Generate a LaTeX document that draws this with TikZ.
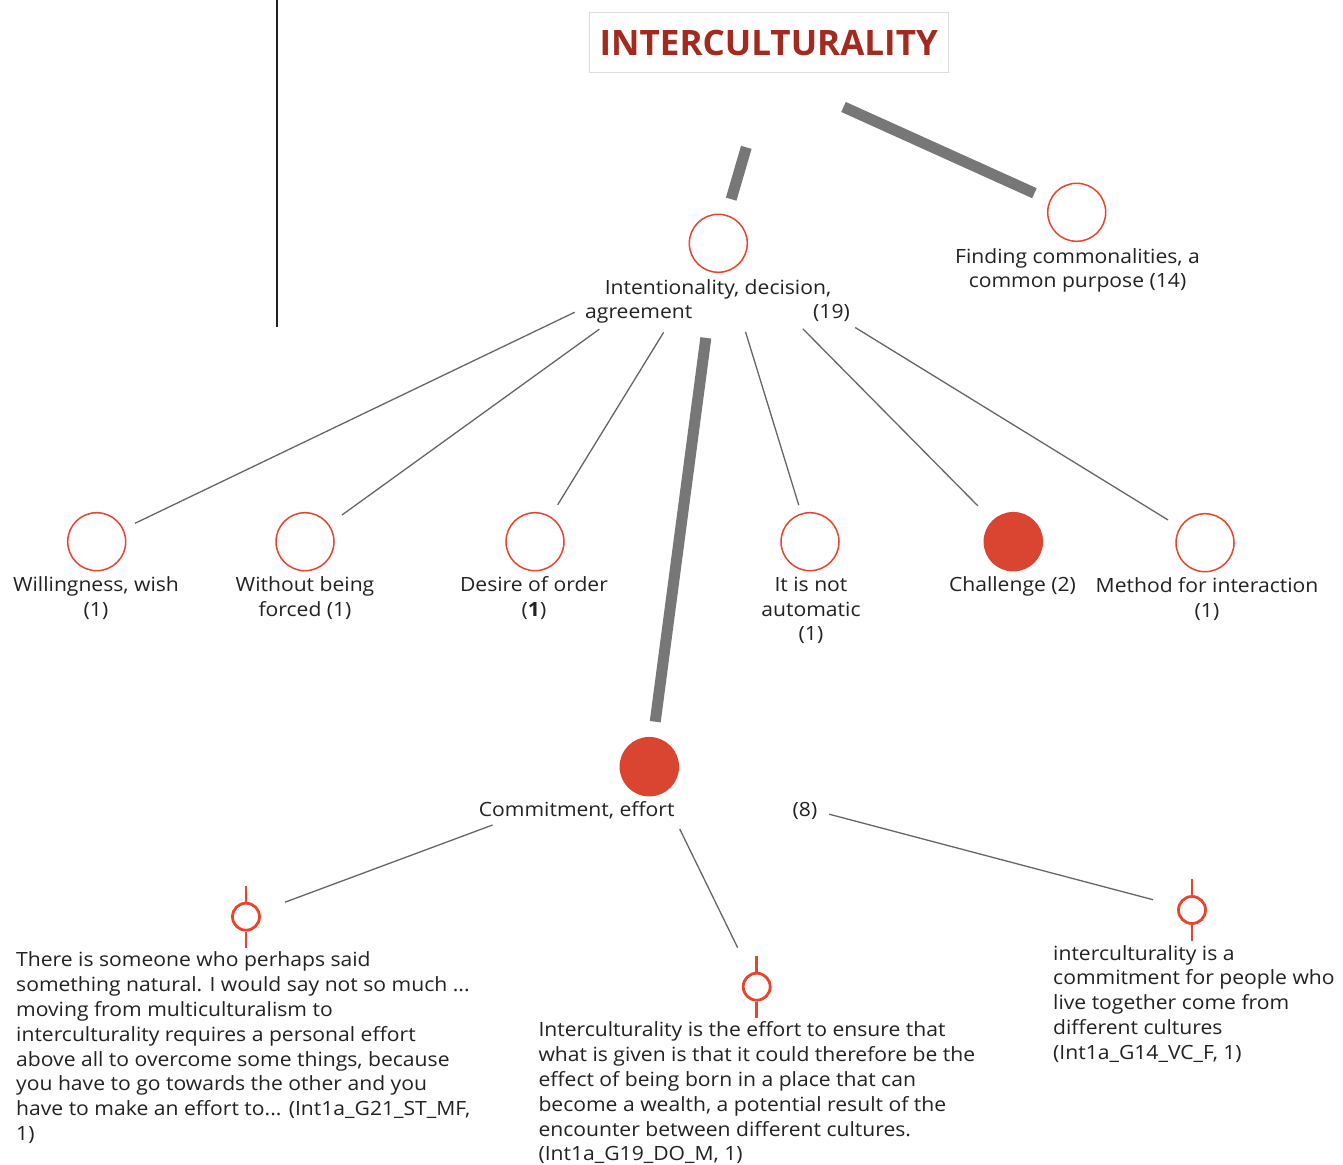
\documentclass[tikz,border=0pt]{standalone}
\usepackage{fontspec}
\setmainfont{Open Sans}[FakeStretch=1.077]
\newfontfamily\headfont{Open Sans}

\definecolor{ink}{HTML}{222222}
\definecolor{titlered}{HTML}{A32A1E}
\definecolor{codered}{HTML}{E8442E}
\definecolor{codefill}{HTML}{D94530}
\definecolor{bargray}{HTML}{777777}
\definecolor{linegray}{HTML}{666666}
\definecolor{boxgray}{HTML}{DDDDDD}

% stacked lines whose baseline is the first line's baseline
\newcommand\mlines[2][c]{\begin{tabular}[t]{@{}#1@{}}#2\end{tabular}}

\tikzset{
  lbl/.style={font=\fontsize{19.6}{24.5}\selectfont, text=ink, inner sep=0, anchor=base},
  quote/.style={font=\fontsize{19.6}{24.85}\selectfont, text=ink, inner sep=0, anchor=base west},
  code/.style={circle, draw=codered, line width=1.5, minimum size=58, inner sep=0},
  codefull/.style={code, draw=codefill, fill=codefill},
  seg/.style={circle, draw=codered, line width=2.8, minimum size=27, inner sep=0},
  segtick/.style={draw=codered, line width=2.8},
  bar/.style={draw=bargray, line width=11},
  twig/.style={draw=linegray, line width=1.3},
}

\begin{document}
\begin{tikzpicture}[x=1pt,y=-1pt]
\fill[white] (0,0) rectangle (1343,1164);
\useasboundingbox (0,0) rectangle (1343,1164);

% side rule
\draw[ink, line width=1.2] (277,0) -- (277,327);

% title
\node[draw=boxgray, fill=white, line width=1, minimum width=359, minimum height=60, inner sep=0,
      font=\headfont\bfseries\fontsize{35}{40}\selectfont, text=titlered] (title) at (768.8,42.7) {INTERCULTURALITY};

% codes
\node[code] (int)  at (718.3,243.3) {};
\node[code] (find) at (1076.7,212.3) {};
\node[code] (will) at (96.7,541.7) {};
\node[code] (forc) at (305,541.7) {};
\node[code] (ordr) at (535,541.7) {};
\node[code] (auto) at (810,541.7) {};
\node[codefull] (chal) at (1013.3,541.7) {};
\node[code] (meth) at (1205,542.7) {};
\node[codefull] (comm) at (649.3,766.7) {};

% code labels
\node[lbl] (intA) at (718,294.5) {Intentionality, decision,};
\node[lbl, anchor=base west] (intB) at (585,318.5) {agreement};
\node[lbl, anchor=base east] (intC) at (850,318.5) {(19)};
\node[lbl] (findL) at (1077.5,263) {\mlines{Finding commonalities, a\\common purpose (14)}};
\node[lbl] (willL) at (96,591.7) {\mlines{Willingness, wish\\(1)}};
\node[lbl] (forcL) at (305,591.7) {\mlines{Without being\\forced (1)}};
\node[lbl] (ordrL) at (534,591.7) {\mlines{Desire of order\\(\textbf{1})}};
\node[lbl] (autoL) at (811,591.7) {\mlines{It is not\\automatic\\(1)}};
\node[lbl] (chalL) at (1012.5,591.7) {Challenge (2)};
\node[lbl] (methL) at (1207,592.5) {\mlines{Method for interaction\\(1)}};
\node[lbl] (commL) at (576.7,816.7) {Commitment, effort};
\node[lbl] (commC) at (805,816.7) {(8)};

% quotation markers
\node[seg] (q1) at (246,916.7) {};
\node[seg] (q2) at (756.7,986.7) {};
\node[seg] (q3) at (1192,910) {};
\foreach \q in {q1,q2,q3}{
  \draw[segtick] (\q.north) -- ([yshift=16]\q.north);
  \draw[segtick] (\q.south) -- ([yshift=-16]\q.south);
}

% quotations
\node[quote] (q1t) at (16,966.7) {\mlines[l]{There is someone who perhaps said\\
something natural. I would say not so much ...\\
moving from multiculturalism to\\
interculturality requires a personal effort\\
above all to overcome some things, because\\
you have to go towards the other and you\\
have to make an effort to... (Int1a\_G21\_ST\_MF,\\
1)}};
\node[quote] (q2t) at (538.3,1036.7) {\mlines[l]{Interculturality is the effort to ensure that\\
what is given is that it could therefore be the\\
effect of being born in a place that can\\
become a wealth, a potential result of the\\
encounter between different cultures.\\
(Int1a\_G19\_DO\_M, 1)}};
\node[quote] (q3t) at (1053,960) {\mlines[l]{interculturality is a\\
commitment for people who\\
live together come from\\
different cultures\\
(Int1a\_G14\_VC\_F, 1)}};

% heavy links
\draw[bar, shorten <=109, shorten >=46] ([xshift=8]title.center) -- (int.center);
\draw[bar, shorten <=82, shorten >=46.4] (title.south) -- (find.center);
\draw[bar, shorten <=95.4, shorten >=45.4] (int.center) -- (comm.center);

% light links
\draw[twig, shorten <=159.3, shorten >=42.6] (int.center) -- (will.center);
\draw[twig, shorten <=146.7, shorten >=45.6] (int.center) -- (forc.center);
\draw[twig, shorten <=104.5, shorten >=43.3] (int.center) -- (ordr.center);
\draw[twig, shorten <=92.6, shorten >=38.3] (int.center) -- (auto.center);
\draw[twig, shorten <=120.3, shorten >=50.4] (int.center) -- (chal.center);
\draw[twig, shorten <=160.8, shorten >=43.4] (int.center) -- (meth.center);
\draw[twig, shorten <=167.2, shorten >=41.7] (comm.center) -- (q1.center);
\draw[twig, shorten <=69.5, shorten >=43.5] (comm.center) -- (q2.center);
\draw[twig, shorten <=186.1, shorten >=40.3] (comm.center) -- (q3.center);
\end{tikzpicture}
\end{document}
